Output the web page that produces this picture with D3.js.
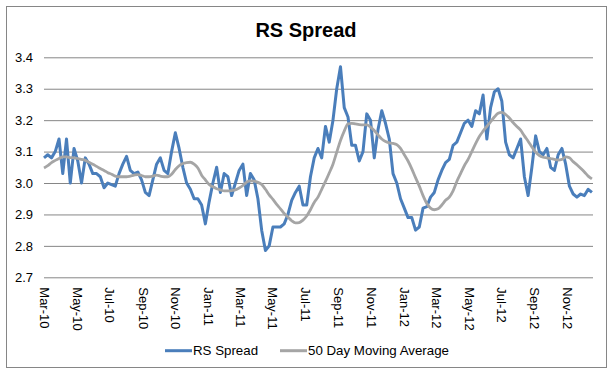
<!DOCTYPE html>
<html>
<head>
<meta charset="utf-8">
<style>
body { margin: 0; background: #fff; }
text { font-family: Arial, "Liberation Sans", sans-serif; fill: #000; }
</style>
<script src="https://d3js.org/d3.v7.min.js"></script>
</head>
<body>
<svg id="chart" width="611" height="373"></svg>
<script>
// weekly readings, first week starts 1 Mar 2010
var startDate = new Date(2010, 2, 1);
var endDate = new Date(2012, 11, 19);

var rsSpread = [3.08, 3.09, 3.08, 3.10, 3.14, 3.03, 3.14, 3.00, 3.11, 3.07,
    3.00, 3.08, 3.06, 3.03, 3.03, 3.02, 2.985, 3.00, 2.995, 2.99,
    3.03, 3.06, 3.085, 3.04, 3.03, 3.035, 3.01, 2.97, 2.96, 3.01,
    3.06, 3.08, 3.04, 3.03, 3.10, 3.16, 3.11, 3.05, 3.00, 2.98,
    2.95, 2.95, 2.93, 2.87, 2.94, 3.00, 3.05, 2.97, 3.03, 3.02,
    2.96, 3.00, 3.04, 3.06, 2.96, 3.03, 3.01, 2.95, 2.85, 2.785,
    2.80, 2.86, 2.86, 2.86, 2.87, 2.90, 2.945, 2.97, 2.99, 2.93,
    2.93, 3.02, 3.08, 3.11, 3.08, 3.18, 3.13, 3.20, 3.30, 3.37,
    3.24, 3.21, 3.12, 3.12, 3.07, 3.10, 3.22, 3.20, 3.08, 3.17,
    3.23, 3.19, 3.14, 3.03, 3.00, 2.95, 2.92, 2.89, 2.89, 2.85,
    2.86, 2.92, 2.925, 2.955, 2.97, 3.01, 3.04, 3.065, 3.075, 3.12,
    3.13, 3.16, 3.19, 3.20, 3.18, 3.23, 3.22, 3.28, 3.14, 3.24,
    3.29, 3.30, 3.26, 3.13, 3.09, 3.08, 3.11, 3.14, 3.02, 2.96,
    3.05, 3.15, 3.10, 3.09, 3.11, 3.05, 3.04, 3.09, 3.11, 3.06,
    2.99, 2.965, 2.955, 2.965, 2.96, 2.98, 2.97];

var movingAvg = [3.048, 3.055, 3.065, 3.072, 3.078, 3.083, 3.083, 3.081, 3.080, 3.078,
    3.075, 3.072, 3.066, 3.060, 3.053, 3.046, 3.040, 3.033, 3.028, 3.022,
    3.020, 3.020, 3.020, 3.022, 3.025, 3.027, 3.024, 3.020, 3.020, 3.022,
    3.025, 3.022, 3.020, 3.020, 3.028, 3.043, 3.055, 3.062, 3.065, 3.066,
    3.060, 3.048, 3.025, 3.010, 2.995, 2.988, 2.982, 2.978, 2.975, 2.975,
    2.976, 2.978, 2.984, 2.992, 3.003, 3.007, 3.006, 3.002, 2.995, 2.980,
    2.962, 2.948, 2.932, 2.918, 2.903, 2.892, 2.880, 2.873, 2.874, 2.882,
    2.895, 2.915, 2.938, 2.955, 2.980, 3.005, 3.032, 3.060, 3.098, 3.135,
    3.165, 3.188, 3.190, 3.188, 3.186, 3.185, 3.185, 3.178, 3.167, 3.153,
    3.140, 3.132, 3.128, 3.126, 3.122, 3.110, 3.090, 3.070, 3.045, 3.017,
    2.990, 2.960, 2.935, 2.920, 2.915, 2.918, 2.930, 2.945, 2.955, 2.975,
    3.005, 3.030, 3.055, 3.075, 3.100, 3.125, 3.148, 3.165, 3.180, 3.195,
    3.210, 3.222, 3.225, 3.218, 3.207, 3.192, 3.180, 3.168, 3.150, 3.133,
    3.115, 3.098, 3.087, 3.082, 3.080, 3.078, 3.075, 3.073, 3.075, 3.083,
    3.080, 3.068, 3.058, 3.047, 3.035, 3.022, 3.013];

var yTicks = [2.7, 2.8, 2.9, 3.0, 3.1, 3.2, 3.3, 3.4];
var xTickLabels = ["Mar-10", "May-10", "Jul-10", "Sep-10", "Nov-10", "Jan-11",
    "Mar-11", "May-11", "Jul-11", "Sep-11", "Nov-11", "Jan-12", "Mar-12",
    "May-12", "Jul-12", "Sep-12", "Nov-12"];
var seriesNames = ["RS Spread", "50 Day Moving Average"];
var seriesColors = ["#4a7ebb", "#a5a5a5"];

var svg = d3.select("#chart");

// chart area border
svg.append("rect")
    .attr("x", 6.5).attr("y", 6.5)
    .attr("width", 600).attr("height", 361)
    .attr("fill", "#fff")
    .attr("stroke", "#868686");

svg.append("text")
    .attr("x", 306).attr("y", 37)
    .attr("text-anchor", "middle")
    .style("font-size", "20px")
    .style("font-weight", "bold")
    .text("RS Spread");

var x = d3.scaleTime().domain([startDate, endDate]).range([44, 593]);
var y = d3.scaleLinear().domain([2.7, 3.4]).range([277.3, 57.3]);

var yAxis = svg.append("g")
    .attr("transform", "translate(44,0)")
    .call(d3.axisLeft(y).tickValues(yTicks).tickSize(-549).tickPadding(11)
        .tickFormat(d3.format(".1f")));
yAxis.select(".domain").remove();
yAxis.selectAll("line").attr("stroke", "#868686");
yAxis.selectAll("text").style("font-size", "13px").attr("fill", "#000");

var tickDates = xTickLabels.map(function(s, i) {
    return d3.timeMonth.offset(startDate, i * 2);
});
var xAxis = svg.append("g")
    .attr("transform", "translate(0,277.3)")
    .call(d3.axisBottom(x).tickValues(tickDates).tickSize(0)
        .tickFormat(function(d, i) { return xTickLabels[i]; }));
xAxis.select(".domain").remove();
xAxis.selectAll("text")
    .attr("transform", "rotate(90)")
    .attr("x", 10).attr("y", 0).attr("dy", "0.35em")
    .style("text-anchor", "start")
    .style("font-size", "13px")
    .attr("fill", "#000");

var weekDate = function(i) { return d3.timeDay.offset(startDate, i * 7); };
var line = d3.line()
    .x(function(d, i) { return x(weekDate(i)); })
    .y(function(d) { return y(d); });

svg.append("path")
    .datum(rsSpread)
    .attr("fill", "none")
    .attr("stroke", seriesColors[0])
    .attr("stroke-width", 3)
    .attr("stroke-linejoin", "round")
    .attr("d", line);

svg.append("path")
    .datum(movingAvg)
    .attr("fill", "none")
    .attr("stroke", seriesColors[1])
    .attr("stroke-width", 2.8)
    .attr("stroke-linejoin", "round")
    .attr("d", line.curve(d3.curveMonotoneX));

// legend
var legendX = [165, 280];
var leg = svg.selectAll(".leg").data(seriesNames).enter().append("g")
    .attr("class", "leg")
    .attr("transform", function(d, i) { return "translate(" + legendX[i] + ",350.7)"; });
leg.append("line")
    .attr("x1", 0).attr("x2", 27)
    .attr("stroke", function(d, i) { return seriesColors[i]; })
    .attr("stroke-width", 3);
leg.append("text")
    .attr("x", 28).attr("dy", "0.35em")
    .style("font-size", "13.3px")
    .text(function(d) { return d; });
</script>
</body>
</html>
